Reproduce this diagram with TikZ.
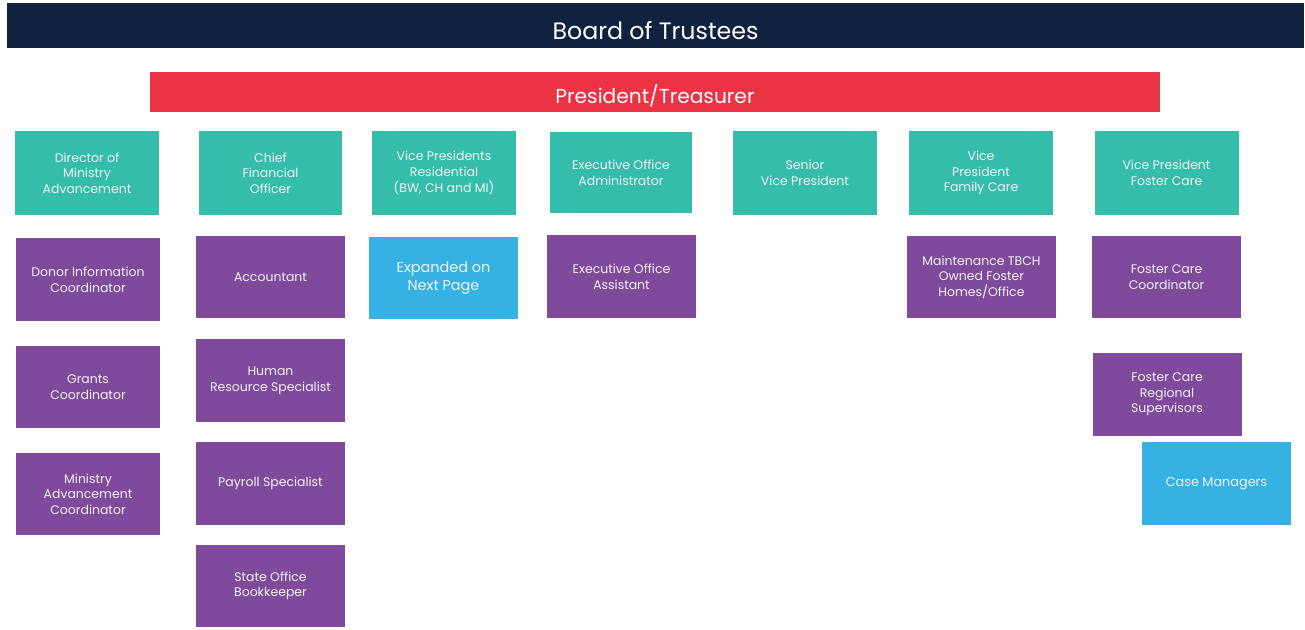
\documentclass[tikz,border=0pt]{standalone}
\usepackage{fontspec}
\setmainfont{Poppins}
\usepackage{tikz}

\definecolor{boardnavy}{HTML}{0F2341}
\definecolor{presred}{HTML}{EC3343}
\definecolor{leadteal}{HTML}{35BDAC}
\definecolor{staffpurple}{HTML}{7F4A9C}
\definecolor{linkblue}{HTML}{35B2E3}

\tikzset{
  orgbox/.style={inner sep=0pt, align=center, text=white!95!black,
    font=\fontsize{7.1}{8.9}\selectfont},
  leadbox/.style={orgbox, fill=leadteal, minimum width=2.88cm, minimum height=1.68cm},
  staffbox/.style={orgbox, fill=staffpurple, minimum width=2.98cm, minimum height=1.65cm},
  linkbox/.style={staffbox, fill=linkblue, font=\fontsize{8.2}{10.4}\selectfont},
  narrowbox/.style={minimum width=2.88cm}
}

\begin{document}
\begin{tikzpicture}[x=0.02cm, y=-0.02cm]
            \useasboundingbox (0,0) rectangle (1305,629);

            % top of the chart
            \node[fill=boardnavy, text=white, minimum width=25.94cm, minimum height=0.9cm,
                  inner sep=0pt, text height=17pt, text depth=1pt,
                  font=\fontsize{13.5}{16}\selectfont] (board) at (655.5,25.5) {Board of Trustees};
            \node[fill=presred, text=white, minimum width=20.2cm, minimum height=0.8cm,
                  inner sep=0pt, text height=14.5pt, text depth=1pt,
                  font=\fontsize{11.5}{14}\selectfont] (pres) at (655,92) {President/Treasurer};

            % leaders
            \node[leadbox] (dirma) at (87,173) {Director of\\Ministry\\Advancement};
            \node[leadbox] (cfo) at (270.5,173) {Chief\\Financial\\Officer};
            \node[leadbox] (vpres) at (444,173) {Vice Presidents\\Residential\\(BW, CH and MI)};
            \node[leadbox, minimum width=2.84cm, minimum height=1.62cm] (eoadmin) at (621,172.5) {Executive Office\\Administrator};
            \node[leadbox] (svp) at (805,173) {Senior\\Vice President};
            \node[leadbox] (vpfam) at (981,173) {Vice\\President\\Family Care};
            \node[leadbox] (vpfos) at (1166.5,173) {Vice President\\Foster Care};

            % ministry advancement
            \node[staffbox, narrowbox] (donor) at (88,279.5) {Donor Information\\Coordinator};
            \node[staffbox, narrowbox] (grants) at (88,387) {Grants\\Coordinator};
            \node[staffbox, narrowbox] (minadv) at (88,494) {Ministry\\Advancement\\Coordinator};

            % finance
            \node[staffbox] (acct) at (270.5,277) {Accountant};
            \node[staffbox] (hr) at (270.5,380.5) {Human\\Resource Specialist};
            \node[staffbox] (payroll) at (270.5,483.5) {Payroll Specialist};
            \node[staffbox] (stateoff) at (270.5,586) {State Office\\Bookkeeper};

            % residential and office
            \node[linkbox] (expanded) at (443.5,278) {Expanded on\\Next Page};
            \node[staffbox] (eoasst) at (621.5,276.5) {Executive Office\\Assistant};

            % family and foster care
            \node[staffbox] (maint) at (981.5,277) {Maintenance TBCH\\Owned Foster\\Homes/Office};
            \node[staffbox] (fccoord) at (1166.5,277) {Foster Care\\Coordinator};
            \node[staffbox] (fcreg) at (1167,394.5) {Foster Care\\Regional\\Supervisors};
            \node[linkbox, font=\fontsize{7.3}{8.9}\selectfont] (casemgr) at (1216.5,483.5) {Case Managers};
        \end{tikzpicture}
\end{document}
